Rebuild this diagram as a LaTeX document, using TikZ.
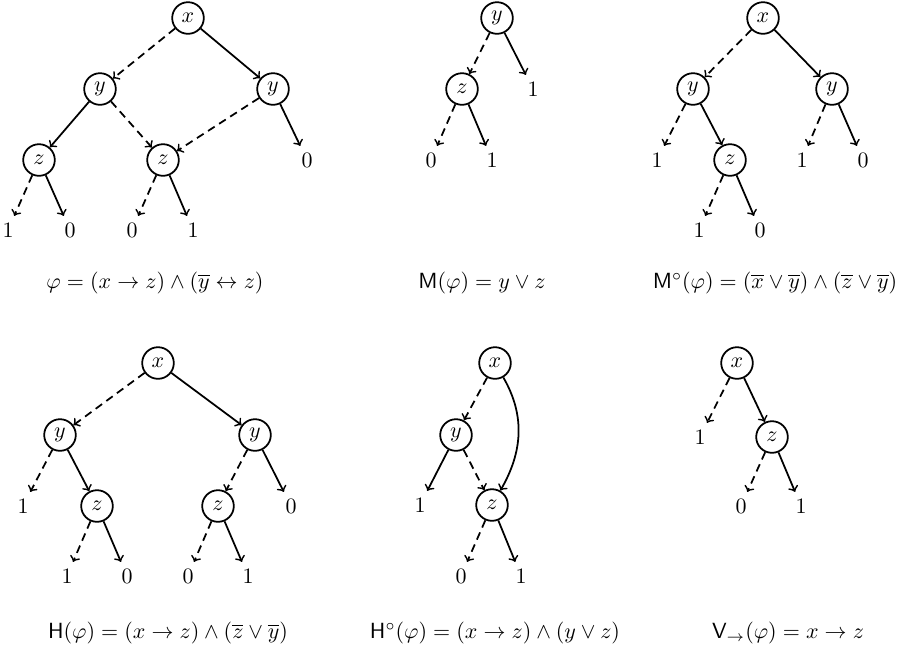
\documentclass[tikz,border=0pt]{standalone}
\usepackage{amsmath}
\tikzset{
  var/.style={circle, draw, thick, minimum size=14.4pt, inner sep=0pt},
  leaf/.style={inner sep=3pt},
  hi/.style={->, thick},
  lo/.style={->, thick, dash pattern=on 3.6pt off 2.4pt},
}
\begin{document}
\begin{tikzpicture}[x=0.16mm, y=-0.16mm]
  \useasboundingbox (0,0) rectangle (906,651);

  % phi
  \node[var] (px) at (188,18) {$x$};
  \node[var] (pyl) at (100,89) {$y$};
  \node[var] (pyr) at (273,89) {$y$};
  \node[var] (pzl) at (39,160) {$z$};
  \node[var] (pzm) at (163,160) {$z$};
  \node[leaf] (pr0) at (307,160) {$0$};
  \node[leaf] (pa1) at (8,230) {$1$};
  \node[leaf] (pa0) at (70,230) {$0$};
  \node[leaf] (pb0) at (132,230) {$0$};
  \node[leaf] (pb1) at (193,230) {$1$};
  \draw[lo] (px) -- (pyl);
  \draw[hi] (px) -- (pyr);
  \draw[hi] (pyl) -- (pzl);
  \draw[lo] (pyl) -- (pzm);
  \draw[lo] (pyr) -- (pzm);
  \draw[hi] (pyr) -- (pr0);
  \draw[lo] (pzl) -- (pa1);
  \draw[hi] (pzl) -- (pa0);
  \draw[lo] (pzm) -- (pb0);
  \draw[hi] (pzm) -- (pb1);
  \node[anchor=base] (lphi) at (155,288) {$\varphi = (x \to z) \land (\overline{y} \leftrightarrow z)$};

  % M
  \node[var] (my) at (497,18) {$y$};
  \node[var] (mz) at (462,89) {$z$};
  \node[leaf] (mr1) at (533,89) {$1$};
  \node[leaf] (m0) at (431,160) {$0$};
  \node[leaf] (m1) at (492,160) {$1$};
  \draw[lo] (my) -- (mz);
  \draw[hi] (my) -- (mr1);
  \draw[lo] (mz) -- (m0);
  \draw[hi] (mz) -- (m1);
  \node[anchor=base] (lm) at (482,288) {$\mathsf{M}(\varphi) = y \lor z$};

  % M circ
  \node[var] (cx) at (763,18) {$x$};
  \node[var] (cyl) at (693,89) {$y$};
  \node[var] (cyr) at (832,89) {$y$};
  \node[leaf] (cl1) at (657,160) {$1$};
  \node[var] (cz) at (730,160) {$z$};
  \node[leaf] (cr1) at (802,160) {$1$};
  \node[leaf] (cr0) at (863,160) {$0$};
  \node[leaf] (cz1) at (699,230) {$1$};
  \node[leaf] (cz0) at (760,230) {$0$};
  \draw[lo] (cx) -- (cyl);
  \draw[hi] (cx) -- (cyr);
  \draw[lo] (cyl) -- (cl1);
  \draw[hi] (cyl) -- (cz);
  \draw[lo] (cyr) -- (cr1);
  \draw[hi] (cyr) -- (cr0);
  \draw[lo] (cz) -- (cz1);
  \draw[hi] (cz) -- (cz0);
  \node[anchor=base] (lmc) at (775,288) {$\mathsf{M}^\circ(\varphi) = (\overline{x} \lor \overline{y}) \land (\overline{z} \lor \overline{y})$};

  % H
  \node[var] (hx) at (158,363) {$x$};
  \node[var] (hyl) at (60,435) {$y$};
  \node[var] (hyr) at (255,435) {$y$};
  \node[leaf] (hl1) at (23,506) {$1$};
  \node[var] (hzl) at (97,506) {$z$};
  \node[var] (hzr) at (218,506) {$z$};
  \node[leaf] (hr0) at (291,506) {$0$};
  \node[leaf] (ha1) at (67,576) {$1$};
  \node[leaf] (ha0) at (127,576) {$0$};
  \node[leaf] (hb0) at (188,576) {$0$};
  \node[leaf] (hb1) at (248,576) {$1$};
  \draw[lo] (hx) -- (hyl);
  \draw[hi] (hx) -- (hyr);
  \draw[lo] (hyl) -- (hl1);
  \draw[hi] (hyl) -- (hzl);
  \draw[lo] (hyr) -- (hzr);
  \draw[hi] (hyr) -- (hr0);
  \draw[lo] (hzl) -- (ha1);
  \draw[hi] (hzl) -- (ha0);
  \draw[lo] (hzr) -- (hb0);
  \draw[hi] (hzr) -- (hb1);
  \node[anchor=base] (lh) at (168,638) {$\mathsf{H}(\varphi) = (x \to z) \land (\overline{z} \lor \overline{y})$};

  % H circ
  \node[var] (kx) at (495,363) {$x$};
  \node[var] (ky) at (456,435) {$y$};
  \node[leaf] (kl1) at (420,505) {$1$};
  \node[var] (kz) at (492,505) {$z$};
  \node[leaf] (k0) at (461,576) {$0$};
  \node[leaf] (k1) at (521,576) {$1$};
  \draw[lo] (kx) -- (ky);
  \draw[hi] (kx) to[out=-60, in=60] (kz);
  \draw[hi] (ky) -- (kl1);
  \draw[lo] (ky) -- (kz);
  \draw[lo] (kz) -- (k0);
  \draw[hi] (kz) -- (k1);
  \node[anchor=base] (lhc) at (495,638) {$\mathsf{H}^\circ(\varphi) = (x \to z) \land (y \lor z)$};

  % V
  \node[var] (vx) at (737,363) {$x$};
  \node[leaf] (vl1) at (700,437) {$1$};
  \node[var] (vz) at (772,437) {$z$};
  \node[leaf] (v0) at (741,506) {$0$};
  \node[leaf] (v1) at (801,506) {$1$};
  \draw[lo] (vx) -- (vl1);
  \draw[hi] (vx) -- (vz);
  \draw[lo] (vz) -- (v0);
  \draw[hi] (vz) -- (v1);
  \node[anchor=base] (lv) at (788,638) {$\mathsf{V}_{\to}(\varphi) = x \to z$};
\end{tikzpicture}
\end{document}
